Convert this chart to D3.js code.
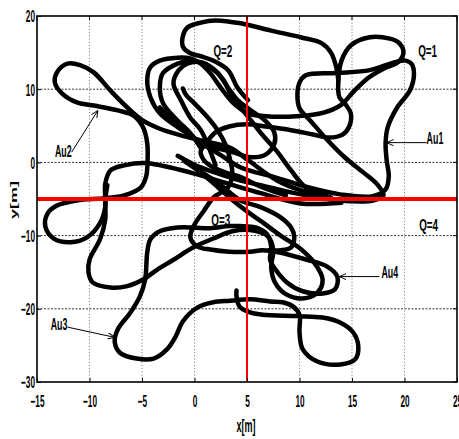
<!DOCTYPE html>
<html>
<head>
<meta charset="utf-8">
<script src="https://cdn.jsdelivr.net/npm/d3@7"></script>
<style>
  body { margin: 0; background: #fff; }
  svg { display: block; }
  text { font-family: "Liberation Sans", Arial, sans-serif; font-weight: bold; fill: #000; }
</style>
</head>
<body>
<svg width="459" height="439"></svg>
<script>
// axis ticks
const xTicks = [-15, -10, -5, 0, 5, 10, 15, 20, 25];
const yTicks = [-30, -20, -10, 0, 10, 20];
const xGrid = [-10, -5, 0, 5, 10, 15, 20];
const yGrid = [-20, -10, 0, 10];

// quadrant borders (red cross)
const crossX = 5;
const crossY = -5;

const quadrantNames = ["Q=1", "Q=2", "Q=3", "Q=4"];
const robotNames = ["Au1", "Au2", "Au3", "Au4"];

// trajectories, [x, y] in metres
const au1Outer = [[-3.3,7.5],[-1.3,4.8],[0.6,2.7],[2.5,1.0],[4.4,-0.7],[7.6,-2.0],[10.8,-3.4],[14.0,-4.4],
  [17.0,-4.6],[18.2,-3.7],[18.5,-1.9],[18.3,0.3],[18.2,2.6],[18.4,4.8],[19.3,7.5],[20.5,9.8],[20.9,11.9],
  [20.7,13.4],[20.1,13.9],[19.1,13.7],[16.7,12.6],[13.5,12.2],[10.6,11.9],[10.0,10.9],[9.8,9.2],[10.0,7.4],
  [11.1,5.6],[12.5,3.3],[14.3,0.7],[16.1,-1.4],[17.4,-3.0],[18.0,-4.5],[17.0,-5.2],[14.9,-5.3],[12.3,-4.9],
  [9.2,-4.1],[6.3,-3.1],[4.4,-2.5],[2.0,-1.4],[0.1,-0.4],[-1.6,0.9]];
const au1Lobe = [[0.6,2.0],[-0.1,3.4],[-1.6,4.8],[-3.3,6.7],[-4.2,8.9],[-4.5,11.3],[-4.2,13.0],[-3.3,13.9],
  [-1.6,14.3],[-0.4,14.2],[0.6,13.5],[1.5,12.2],[2.5,10.2],[3.7,8.1],[5.1,6.7],[6.8,6.3],[9.7,6.3],[12.3,6.8],
  [14.0,7.9],[15.1,9.6],[16.5,11.5],[18.0,12.8],[19.4,13.7],[19.9,15.0],[19.5,16.3],[18.6,16.9],[16.7,17.1],
  [14.9,16.0],[14.0,13.9],[13.7,11.2],[13.8,8.9],[14.4,7.9],[14.9,6.6],[14.7,4.8],[14.1,3.8],[12.8,3.4],
  [11.3,3.8],[9.2,4.4],[6.8,4.9],[5.0,5.2],[3.3,4.9],[2.0,4.1],[1.3,3.0]];
const au1Top = [[5.1,8.5],[4.1,10.2],[3.2,12.6],[1.8,13.9],[0.6,14.5],[-0.4,14.9],[-1.1,15.8],[-1.1,17.3],
  [-0.7,18.4],[0.6,19.1],[2.0,19.4],[4.4,19.0],[7.3,18.0],[10.1,17.1],[12.1,16.3],[13.0,15.0],[13.5,13.0],
  [13.7,11.2]];

const au2Main = [[13.0,-4.8],[10.1,-3.8],[7.9,-2.5],[5.1,0.3],[3.4,2.0],[0.6,3.0],[-1.3,3.7],[-3.3,4.6],
  [-4.9,5.7],[-6.4,7.5],[-8.0,9.8],[-9.6,12.3],[-10.9,13.3],[-12.1,13.5],[-13.1,12.3],[-13.3,10.9],
  [-12.6,9.4],[-11.2,8.2],[-9.3,7.7],[-7.3,7.1],[-5.8,6.4],[-4.9,4.8],[-4.5,2.6],[-4.5,-0.7],[-4.6,-1.9],
  [-5.1,-3.4],[-6.7,-4.5],[-8.6,-4.9],[-11.2,-5.2],[-13.1,-5.9],[-14.0,-7.0],[-14.2,-8.8],[-13.4,-10.4],
  [-11.8,-10.9],[-10.2,-10.2],[-9.0,-8.3],[-8.5,-6.1],[-8.5,-2.9],[-8.0,-1.1],[-6.7,-0.4],[-4.5,-0.1],
  [-2.3,-0.7],[-0.1,-1.5],[3.2,-2.9],[6.3,-4.2],[10.1,-5.6],[14.0,-5.5]];
const au2Loop = [[0.6,2.0],[-0.4,4.0],[-1.6,5.7],[-3.0,8.1],[-3.3,10.2],[-3.0,12.2],[-1.6,13.5],[-0.4,13.9],
  [0.9,13.5],[2.2,12.2],[3.2,10.2],[4.1,8.5],[5.4,7.1],[6.8,5.6],[7.6,4.1],[7.6,2.5],[6.8,1.1],[5.4,0.7],
  [3.6,1.4],[2.0,2.0],[1.1,2.3],[0.6,1.6],[0.9,0.3],[1.8,-0.7],[3.2,-1.5],[4.4,-2.0],[6.3,-3.3],[8.7,-4.5]];
const au2Inner = [[2.0,-0.4],[0.6,4.4],[-0.4,6.1],[-1.3,8.5],[-2.0,10.8],[-1.5,12.6],[-0.7,13.5],[0.6,13.7],
  [1.8,12.8],[2.8,11.2],[3.4,9.4],[4.4,7.5],[5.4,5.7],[6.5,3.7],[7.8,1.6],[9.2,-1.1],[10.6,-3.4],[13.0,-4.8]];

const au3Strand = [[-8.3,-3.1],[-8.5,-5.2],[-8.5,-7.8],[-9.0,-10.5],[-10.0,-13.3],[-10.1,-15.0],[-9.7,-16.4],
  [-8.0,-17.1],[-6.4,-16.9],[-4.9,-16.0],[-3.5,-14.6],[-2.0,-13.3],[-0.1,-11.6],[1.8,-10.4],[3.6,-9.4],
  [5.6,-9.3],[7.0,-10.1],[7.5,-12.0],[7.3,-14.3],[7.7,-16.5],[8.7,-18.0],[10.3,-18.6],[11.7,-17.8],
  [12.2,-16.0],[11.4,-13.7],[10.0,-11.7],[8.2,-10.0],[6.5,-8.2],[5.1,-6.8],[3.4,-4.9],[2.0,-3.1],[0.6,-1.4],
  [-1.0,0.2]];

const au4Long = [[-1.1,10.1],[-0.8,9.2],[-0.1,8.2],[1.1,6.4],[2.2,4.4],[3.0,2.3],[3.4,0.3],[3.6,-1.5],
  [3.2,-3.4],[1.8,-4.8],[0.9,-6.6],[0.0,-8.5],[-0.4,-10.2],[0.3,-11.5],[1.5,-11.9],[3.3,-12.2],[5.3,-12.2],
  [6.5,-12.0],[8.1,-12.3],[10.7,-13.3],[12.6,-14.2],[13.6,-15.6],[13.4,-17.3],[12.2,-17.9],[10.3,-17.6],
  [8.8,-16.4],[7.7,-14.6],[7.2,-13.3],[7.3,-11.5],[6.9,-9.8],[5.9,-8.9],[4.3,-8.7],[3.3,-8.7],[1.5,-9.0],
  [-0.1,-8.9],[-1.6,-8.9],[-3.3,-9.4],[-4.2,-10.5],[-4.5,-12.3],[-4.7,-16.0],[-5.2,-18.3],[-6.1,-20.5],
  [-7.3,-22.8],[-7.6,-24.5],[-7.1,-26.0],[-5.5,-26.8],[-3.9,-26.8],[-2.6,-25.5],[-1.8,-23.8],[-1.1,-21.7],
  [0.3,-19.8],[1.8,-19.1],[3.4,-18.9],[5.3,-18.7],[7.2,-19.0],[8.4,-19.1],[9.4,-19.7],[10.0,-20.8],
  [10.0,-23.2],[10.3,-25.5],[11.7,-27.2],[13.9,-27.6],[15.3,-26.9],[15.6,-25.1],[15.1,-23.2],[13.9,-21.9],
  [12.2,-21.2],[9.8,-21.0],[6.5,-20.8],[5.3,-20.5],[4.3,-19.7],[4.0,-18.3],[4.0,-17.5]];
const au4Hook = [[0.1,-0.8],[2.5,-3.1],[4.4,-5.2],[6.3,-6.1],[8.2,-7.5],[9.2,-8.9],[9.5,-10.2],[9.2,-11.6],
  [8.2,-12.0],[7.1,-12.0]];

const tracks = [au1Outer, au1Lobe, au1Top, au2Main, au2Loop, au2Inner, au3Strand, au4Long, au4Hook];

// where the texts sit, in data units
const quadrantPos = [[22.2, 15.3], [2.7, 15.3], [2.5, -7.8], [22.3, -8.5]];
const robotPos = [[22.9, 3.4], [-12.5, 1.6], [-12.9, -22.0], [18.6, -15.0]];
const arrowFrom = [[22.1, 2.7], [-11.7, 1.4], [-12.1, -22.5], [17.6, -15.6]];
const arrowTo = [[18.3, 2.7], [-9.2, 7.1], [-7.6, -23.9], [13.8, -15.6]];

function drawChart() {
    const svg = d3.select("svg");
    const left = 37, right = 457, top = 16, bottom = 382;

    const x = d3.scaleLinear().domain([-15, 25]).range([left, right]);
    const y = d3.scaleLinear().domain([-30, 20]).range([bottom, top]);

    // squeeze text the way the original export did
    const squeeze = 0.5;

    // grid
    svg.append("g").selectAll("line").data(xGrid).join("line")
        .attr("x1", d => x(d)).attr("x2", d => x(d))
        .attr("y1", top).attr("y2", bottom)
        .attr("stroke", "#666").attr("stroke-width", 0.8)
        .attr("stroke-dasharray", "1.2,2");
    svg.append("g").selectAll("line").data(yGrid).join("line")
        .attr("x1", left).attr("x2", right)
        .attr("y1", d => y(d)).attr("y2", d => y(d))
        .attr("stroke", "#333").attr("stroke-width", 1)
        .attr("stroke-dasharray", "2,1.5");

    // trajectories
    const line = d3.line()
        .x(d => x(d[0]))
        .y(d => y(d[1]))
        .curve(d3.curveCatmullRom.alpha(0.5));

    svg.append("g").selectAll("path").data(tracks).join("path")
        .attr("d", line)
        .attr("fill", "none")
        .attr("stroke", "#000")
        .attr("stroke-width", 4.5)
        .attr("stroke-linejoin", "round")
        .attr("stroke-linecap", "round");

    // red quadrant cross
    svg.append("line")
        .attr("x1", left).attr("x2", right)
        .attr("y1", y(crossY)).attr("y2", y(crossY))
        .attr("stroke", "#ff0000").attr("stroke-width", 4);
    svg.append("line")
        .attr("x1", x(crossX)).attr("x2", x(crossX))
        .attr("y1", top).attr("y2", bottom)
        .attr("stroke", "#ff0000").attr("stroke-width", 2);

    // axes, ticks inside like matlab
    const xAxis = svg.append("g")
        .attr("transform", `translate(0,${bottom})`)
        .call(d3.axisBottom(x).tickValues(xTicks).tickSize(-4).tickSizeOuter(0).tickPadding(0));
    xAxis.selectAll("text")
        .attr("y", 0).attr("dy", 0)
        .attr("transform", `translate(0,25) scale(${squeeze},1)`)
        .style("font-size", "16.5px");

    const yAxis = svg.append("g")
        .attr("transform", `translate(${left},0)`)
        .call(d3.axisLeft(y).tickValues(yTicks).tickSize(-4).tickSizeOuter(0).tickPadding(0));
    yAxis.selectAll("text")
        .attr("x", 0).attr("dy", "0.36em")
        .attr("transform", `translate(-2,0) scale(${squeeze},1)`)
        .style("font-size", "16.5px");

    svg.selectAll(".domain").remove();
    svg.selectAll(".tick text").attr("fill", "#000").attr("font-family", null);
    svg.selectAll(".tick line").attr("stroke", "#000");

    // ticks on top and right as well
    svg.append("g").selectAll("line").data(xTicks).join("line")
        .attr("x1", d => x(d)).attr("x2", d => x(d))
        .attr("y1", top).attr("y2", top + 4).attr("stroke", "#000");
    svg.append("g").selectAll("line").data(yTicks).join("line")
        .attr("x1", right).attr("x2", right - 4)
        .attr("y1", d => y(d)).attr("y2", d => y(d)).attr("stroke", "#000");

    // frame
    svg.append("rect")
        .attr("x", left).attr("y", top)
        .attr("width", right - left).attr("height", bottom - top)
        .attr("fill", "none").attr("stroke", "#000").attr("stroke-width", 1.6);

    // axis titles
    svg.append("text")
        .attr("transform", `translate(246,432) scale(${squeeze},1)`)
        .attr("text-anchor", "middle")
        .style("font-size", "18px")
        .text("x[m]");
    svg.append("text")
        .attr("transform", `translate(17,200) rotate(-90) scale(1,${squeeze})`)
        .attr("text-anchor", "middle")
        .style("font-size", "18px")
        .text("y[m]");

    // quadrant names
    svg.append("g").selectAll("text").data(quadrantNames).join("text")
        .attr("transform", (d, i) => `translate(${x(quadrantPos[i][0])},${y(quadrantPos[i][1])}) scale(0.58,1)`)
        .attr("text-anchor", "middle")
        .attr("dy", "0.36em")
        .style("font-size", "17px")
        .text(d => d);

    // robot names with arrows
    const defs = svg.append("defs");
    defs.append("marker")
        .attr("id", "head")
        .attr("viewBox", "0 -5 10 10")
        .attr("refX", 10).attr("refY", 0)
        .attr("markerWidth", 7).attr("markerHeight", 7)
        .attr("markerUnits", "userSpaceOnUse")
        .attr("orient", "auto")
        .append("path")
        .attr("d", "M0,-4.5L10,0L0,4.5")
        .attr("fill", "none").attr("stroke", "#000").attr("stroke-width", 1.4);

    svg.append("g").selectAll("line").data(robotNames).join("line")
        .attr("x1", (d, i) => x(arrowFrom[i][0])).attr("y1", (d, i) => y(arrowFrom[i][1]))
        .attr("x2", (d, i) => x(arrowTo[i][0])).attr("y2", (d, i) => y(arrowTo[i][1]))
        .attr("stroke", "#000").attr("stroke-width", 1)
        .attr("marker-end", "url(#head)");

    svg.append("g").selectAll("text").data(robotNames).join("text")
        .attr("transform", (d, i) => `translate(${x(robotPos[i][0])},${y(robotPos[i][1])}) scale(0.52,1)`)
        .attr("text-anchor", "middle")
        .attr("dy", "0.36em")
        .style("font-size", "17px")
        .text(d => d);
}

drawChart();
</script>
</body>
</html>
